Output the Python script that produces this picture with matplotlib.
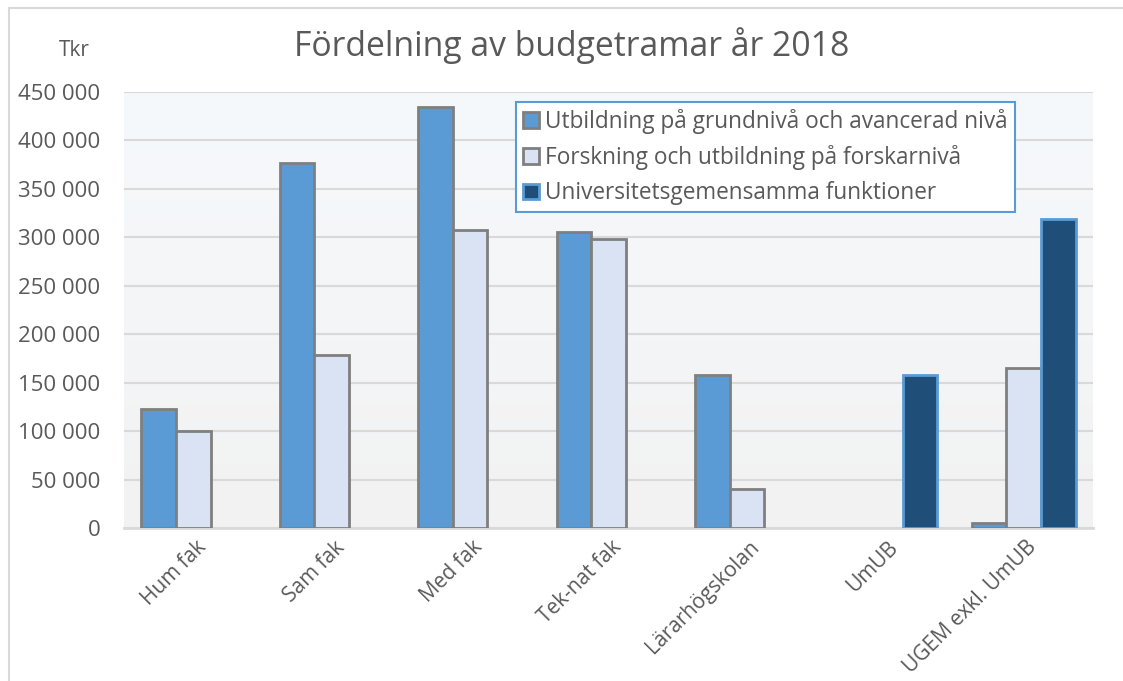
import numpy as np
import matplotlib.pyplot as plt
import matplotlib.transforms as mtransforms
from matplotlib.patches import Rectangle, Patch
from matplotlib.ticker import FuncFormatter

categories = ["Hum fak", "Sam fak", "Med fak", "Tek-nat fak", "Lärarhögskolan", "UmUB", "UGEM exkl. UmUB"]
utbildning = [123000, 377000, 435000, 305000, 158000, 0, 5000]
forskning = [100000, 179000, 308000, 298000, 40000, 0, 165000]
gemensamma = [0, 0, 0, 0, 0, 158000, 319000]
series_names = ["Utbildning på grundnivå och avancerad nivå",
                "Forskning och utbildning på forskarnivå",
                "Universitetsgemensamma funktioner"]

plt.rcParams['font.family'] = ['Open Sans', 'DejaVu Sans']
text_color = "#595959"
colors = ["#5b9bd5", "#dae3f3", "#1f4e79"]
edges = ["#7f7f7f", "#7f7f7f", "#5b9bd5"]

fig = plt.figure(figsize=(11.23, 6.81), dpi=100)
ax = fig.add_axes([124/1123, 1 - 528/681, (1093-124)/1123, (528-92)/681])

# chart area border
fig.patches.append(Rectangle((9/1123, -0.1), 1.2, 1 - 8/681 + 0.1, transform=fig.transFigure,
                             fill=False, edgecolor="#d9d9d9", linewidth=1.5))

# gradient plot background
grad = np.linspace(0, 1, 256).reshape(-1, 1)
top = np.array([0xf6, 0xf9, 0xfc]) / 255
bot = np.array([0xf2, 0xf2, 0xf2]) / 255
img = top + (bot - top) * grad[..., None]
ax.imshow(img, extent=[0, 1, 0, 1], transform=ax.transAxes, aspect="auto", zorder=0)

x = np.arange(len(categories))
w = 0.25
for i, vals in enumerate([utbildning, forskning, gemensamma]):
    bars = ax.bar(x + (i - 1) * w, vals, w, color=colors[i], edgecolor=edges[i], linewidth=2, zorder=3)
    for r in bars:
        if r.get_height() == 0:
            r.set_visible(False)

ax.set_xlim(-0.5, len(categories) - 0.5)
ax.set_ylim(0, 450000)
ax.set_yticks(np.arange(0, 450001, 50000))
ax.yaxis.set_major_formatter(FuncFormatter(lambda v, p: f"{int(v):,}".replace(",", " ")))
ax.grid(axis="y", color="#d9d9d9", linewidth=1.5, zorder=1)
ax.set_axisbelow(True)
for s in ["top", "right", "left"]:
    ax.spines[s].set_visible(False)
ax.spines["bottom"].set_color("#d9d9d9")
ax.spines["bottom"].set_linewidth(2)
ax.tick_params(axis="both", length=0, colors=text_color, labelsize=16)
ax.tick_params(axis="y", pad=17)
ax.set_xticks(x)
ax.set_xticklabels(categories, rotation=45, ha="right", rotation_mode="anchor", fontsize=15)
offset = mtransforms.ScaledTranslation(2/100, -4/100, fig.dpi_scale_trans)
for lab in ax.get_xticklabels():
    lab.set_transform(lab.get_transform() + offset)

fig.text(74/1123, 1 - 50/681, "Tkr", ha="center", va="center", fontsize=15, color=text_color)
fig.text(572/1123, 1 - 46/681, "Fördelning av budgetramar år 2018", ha="center", va="center",
         fontsize=24.3, color=text_color)

handles = [Patch(facecolor=colors[i], edgecolor=edges[i], linewidth=2) for i in range(3)]
leg = ax.legend(handles, series_names, loc="upper left",
                bbox_to_anchor=((516-124)/969, 1 - 10/436), frameon=True,
                fancybox=False, fontsize=16.3, handlelength=0.7, handleheight=0.7,
                handletextpad=0.3, borderpad=0.3, labelspacing=0.5, borderaxespad=0)
leg.get_frame().set_edgecolor("#5b9bd5")
leg.get_frame().set_linewidth(1.5)
leg.get_frame().set_facecolor("white")
leg.get_frame().set_alpha(None)
for t in leg.get_texts():
    t.set_color(text_color)

fig.savefig("out.png", dpi=100)
